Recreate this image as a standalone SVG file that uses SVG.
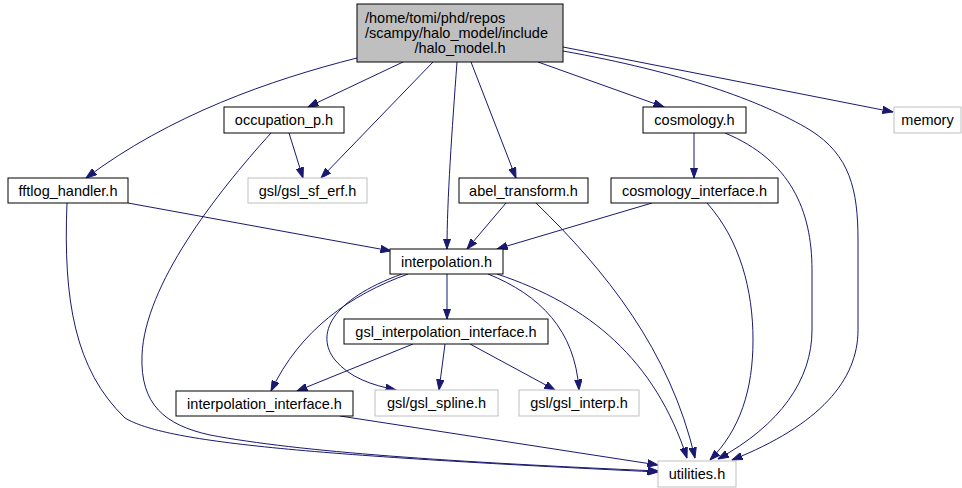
<svg xmlns="http://www.w3.org/2000/svg" width="962" height="488" viewBox="0 0 962 488">
<style>
.n rect{fill:#fff;stroke:#000;stroke-width:1}
.n.g rect{stroke:#bfbfbf}
.n.r rect{fill:#bfbfbf}
text{font-family:"Liberation Sans",Arial,sans-serif;font-size:14.5px;fill:#000}
.c{text-anchor:middle}
#edges path{fill:none;stroke:#191970;stroke-width:1;marker-end:url(#ah)}
</style>
<defs>
<marker id="ah" markerUnits="userSpaceOnUse" markerWidth="11" markerHeight="8" refX="10.5" refY="4" orient="auto">
<path d="M0,0.3 L10.5,4 L0,7.7 z" fill="#191970" stroke="#191970" stroke-width="1"/>
</marker>
</defs>
<rect width="962" height="488" fill="#fff"/>
<g id="edges">
<path d="M357,58 C270,80 170,115 86,178"/>
<path d="M403,62 L308,107"/>
<path d="M433,62 L321,178"/>
<path d="M457,62 C452,130 447,200 447,249"/>
<path d="M471,62 L516,178"/>
<path d="M538,62 L664,107"/>
<path d="M563,47 L893,112"/>
<path d="M563,51 C680,72 760,100 810,130 C850,155 858,190 858,240 L858,330 C858,380 820,425 732,460"/>
<path d="M289,133 L303,178"/>
<path d="M271,133 C215,195 145,285 142,355 C140,405 165,425 210,435 C300,452 450,462 658,471"/>
<path d="M67,203 C63,300 75,370 125,418 C165,442 300,455 658,472"/>
<path d="M128,203 L391,251"/>
<path d="M506,203 L467,249"/>
<path d="M536,203 C605,270 670,350 695,458"/>
<path d="M694,133 L694,178"/>
<path d="M725,133 C790,160 812,210 812,270 L812,330 C812,380 780,425 718,459"/>
<path d="M652,203 L497,249"/>
<path d="M707,203 C740,240 753,290 753,340 C753,390 740,430 710,460"/>
<path d="M447,274 L447,319"/>
<path d="M408,274 C350,295 300,330 271,391"/>
<path d="M402,274 C330,300 315,335 335,360 C350,378 372,385 396,390"/>
<path d="M488,274 C540,295 575,330 579,390"/>
<path d="M497,274 C590,305 655,360 687,458"/>
<path d="M413,344 L297,391"/>
<path d="M445,344 L439,390"/>
<path d="M470,344 L555,390"/>
<path d="M340,416 L658,465"/>
</g>
<g id="n_root" class="n r"><rect x="357" y="4" width="206" height="58"/>
<text x="365" y="23">/home/tomi/phd/repos</text>
<text x="365" y="38">/scampy/halo_model/include</text>
<text x="460" y="53" class="c">/halo_model.h</text></g>
<g id="n_occupation" class="n"><rect x="224" y="107" width="120" height="26"/><text x="284" y="125" class="c">occupation_p.h</text></g>
<g id="n_cosmology" class="n"><rect x="643" y="107" width="103" height="26"/><text x="694.5" y="125" class="c">cosmology.h</text></g>
<g id="n_memory" class="n g"><rect x="894" y="107" width="67" height="26"/><text x="927.5" y="125" class="c">memory</text></g>
<g id="n_fftlog" class="n"><rect x="8" y="178" width="120" height="25"/><text x="68" y="196" class="c">fftlog_handler.h</text></g>
<g id="n_erf" class="n g"><rect x="248" y="178" width="119" height="25"/><text x="307.5" y="196" class="c">gsl/gsl_sf_erf.h</text></g>
<g id="n_abel" class="n"><rect x="459" y="178" width="129" height="25"/><text x="523.5" y="196" class="c">abel_transform.h</text></g>
<g id="n_cosmo_if" class="n"><rect x="611" y="178" width="167" height="25"/><text x="694.5" y="196" class="c">cosmology_interface.h</text></g>
<g id="n_interp" class="n"><rect x="390" y="249" width="113" height="25"/><text x="446.5" y="267" class="c">interpolation.h</text></g>
<g id="n_gsl_if" class="n"><rect x="344" y="319" width="204" height="25"/><text x="446" y="337" class="c">gsl_interpolation_interface.h</text></g>
<g id="n_interp_if" class="n"><rect x="176" y="391" width="177" height="25"/><text x="264.5" y="409" class="c">interpolation_interface.h</text></g>
<g id="n_spline" class="n g"><rect x="375" y="390" width="123" height="26"/><text x="436.5" y="408" class="c">gsl/gsl_spline.h</text></g>
<g id="n_ginterp" class="n g"><rect x="519" y="390" width="120" height="26"/><text x="579" y="408" class="c">gsl/gsl_interp.h</text></g>
<g id="n_util" class="n g"><rect x="658" y="461" width="78" height="26"/><text x="697" y="479" class="c">utilities.h</text></g>
</svg>
